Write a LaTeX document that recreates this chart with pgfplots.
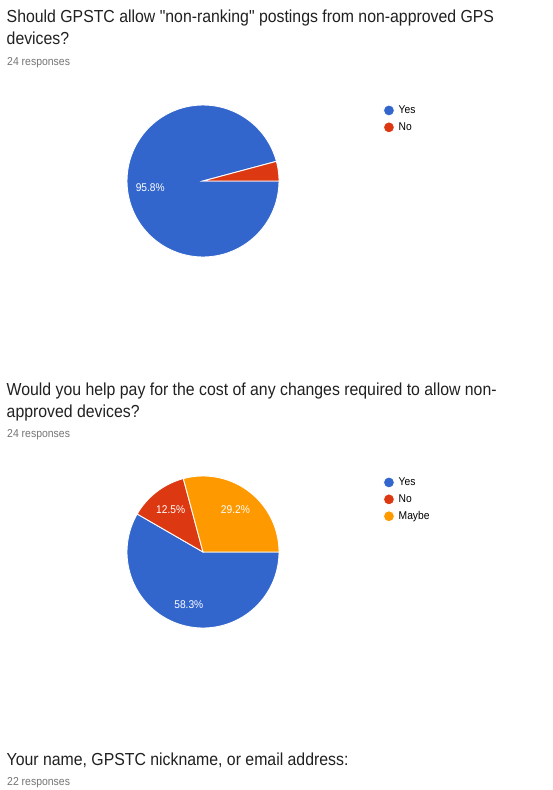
\documentclass[border=0pt]{standalone}
\usepackage{pgfplots}
\pgfplotsset{compat=1.18}
\usepackage{pgfplotstable}
\usepackage{fontspec}
\setmainfont{Liberation Sans}[FakeStretch=0.91, Ligatures=TeXOff]
\definecolor{gYes}{HTML}{3366CC}
\definecolor{gNo}{HTML}{DC3912}
\definecolor{gMaybe}{HTML}{FF9900}
\definecolor{titlecol}{HTML}{212121}
\definecolor{subcol}{HTML}{757575}

\pgfplotstableread{
answer count
Yes 23
No 1
}\pieone
\pgfplotstableread{
answer count
Yes 14
No 3
Maybe 7
}\pietwo

\newcommand\getcount[3]{\pgfplotstablegetelem{#2}{count}\of#1\edef#3{\pgfplotsretval}}
\getcount\pieone{0}\cAyes
\getcount\pieone{1}\cAno
\getcount\pietwo{0}\cByes
\getcount\pietwo{1}\cBno
\getcount\pietwo{2}\cBmaybe
% angles: slices start at 3 o'clock and run clockwise
\pgfmathsetmacro\totA{\cAyes+\cAno}
\pgfmathsetmacro\AyesEnd{-360*\cAyes/\totA}
\pgfmathsetmacro\AyesMid{\AyesEnd/2}
\pgfmathsetmacro\totB{\cByes+\cBno+\cBmaybe}
\pgfmathsetmacro\ByesEnd{-360*\cByes/\totB}
\pgfmathsetmacro\BnoEnd{\ByesEnd-360*\cBno/\totB}
\pgfmathsetmacro\ByesMid{\ByesEnd/2}
\pgfmathsetmacro\BnoMid{(\ByesEnd+\BnoEnd)/2}
\pgfmathsetmacro\BmaybeMid{(\BnoEnd-360)/2}

\pgfplotsset{
  pie/.style={
    hide axis, scale only axis, width=152pt, height=152pt,
    xmin=-1, xmax=1, ymin=-1, ymax=1, clip=false,
    anchor=center,
    legend image code/.code={\fill (5.5pt,0pt) circle (5.5pt);},
    legend cell align=left,
    legend style={anchor=north west, draw=none, fill=none,
      inner sep=0pt, outer sep=0pt, row sep=5pt, column sep=3.8pt,
      font=\fontsize{11.3}{13}\selectfont,
      nodes={inner sep=0pt, text height=7pt, text depth=0pt, anchor=west}},
  },
  slice/.style={draw=white, line width=0.9pt, samples=120},
}
\tikzset{plabel/.style={text=white, font=\fontsize{11.2}{13}\selectfont, inner sep=0pt}}

\begin{document}
\begin{tikzpicture}
\path[fill=white] (0pt,0pt) rectangle (552pt,-790pt);

% ---- Question 1 ----
\node[anchor=base west, inner sep=0pt, text=titlecol, font=\fontsize{17.4}{22}\selectfont] at (6.5pt,-22.5pt) {Should GPSTC allow "non-ranking" postings from non-approved GPS};
\node[anchor=base west, inner sep=0pt, text=titlecol, font=\fontsize{17.4}{22}\selectfont] at (6.5pt,-44.5pt) {devices?};
\node[anchor=base west, inner sep=0pt, text=subcol, font=\fontsize{11.5}{13}\selectfont] at (7pt,-65pt) {24 responses};

\begin{axis}[pie, at={(203pt,-181pt)},
  legend style={at={(axis description cs:1.6842,1.0033)}}]
\addplot[slice, fill=gYes, domain=\AyesEnd:0] ({cos(x)},{sin(x)}) -- (axis cs:0,0) -- cycle;
\addlegendentry{Yes}
\addplot[slice, fill=gNo, domain=-360:\AyesEnd] ({cos(x)},{sin(x)}) -- (axis cs:0,0) -- cycle;
\addlegendentry{No}
\node[plabel] at (axis cs:{0.7*cos(\AyesMid)},{0.7*sin(\AyesMid)}) {95.8\%};
\end{axis}

% ---- Question 2 ----
\node[anchor=base west, inner sep=0pt, text=titlecol, font=\fontsize{17.4}{22}\selectfont] at (6.5pt,-395pt) {Would you help pay for the cost of any changes required to allow non-};
\node[anchor=base west, inner sep=0pt, text=titlecol, font=\fontsize{17.4}{22}\selectfont] at (6.5pt,-417pt) {approved devices?};
\node[anchor=base west, inner sep=0pt, text=subcol, font=\fontsize{11.5}{13}\selectfont] at (7pt,-437.7pt) {24 responses};

\begin{axis}[pie, at={(203pt,-552pt)},
  legend style={at={(axis description cs:1.6842,0.9967)}}]
\addplot[slice, fill=gYes, domain=\ByesEnd:0] ({cos(x)},{sin(x)}) -- (axis cs:0,0) -- cycle;
\addlegendentry{Yes}
\addplot[slice, fill=gNo, domain=\BnoEnd:\ByesEnd] ({cos(x)},{sin(x)}) -- (axis cs:0,0) -- cycle;
\addlegendentry{No}
\addplot[slice, fill=gMaybe, domain=-360:\BnoEnd] ({cos(x)},{sin(x)}) -- (axis cs:0,0) -- cycle;
\addlegendentry{Maybe}
\node[plabel] at (axis cs:{0.72*cos(\ByesMid)},{0.72*sin(\ByesMid)}) {58.3\%};
\node[plabel] at (axis cs:{0.7*cos(\BnoMid)},{0.7*sin(\BnoMid)}) {12.5\%};
\node[plabel] at (axis cs:{0.7*cos(\BmaybeMid)},{0.7*sin(\BmaybeMid)}) {29.2\%};
\end{axis}

% ---- Question 3 ----
\node[anchor=base west, inner sep=0pt, text=titlecol, font=\fontsize{17.4}{22}\selectfont] at (6.5pt,-765pt) {Your name, GPSTC nickname, or email address:};
\node[anchor=base west, inner sep=0pt, text=subcol, font=\fontsize{11.5}{13}\selectfont] at (7pt,-785.5pt) {22 responses};
\end{tikzpicture}
\end{document}
